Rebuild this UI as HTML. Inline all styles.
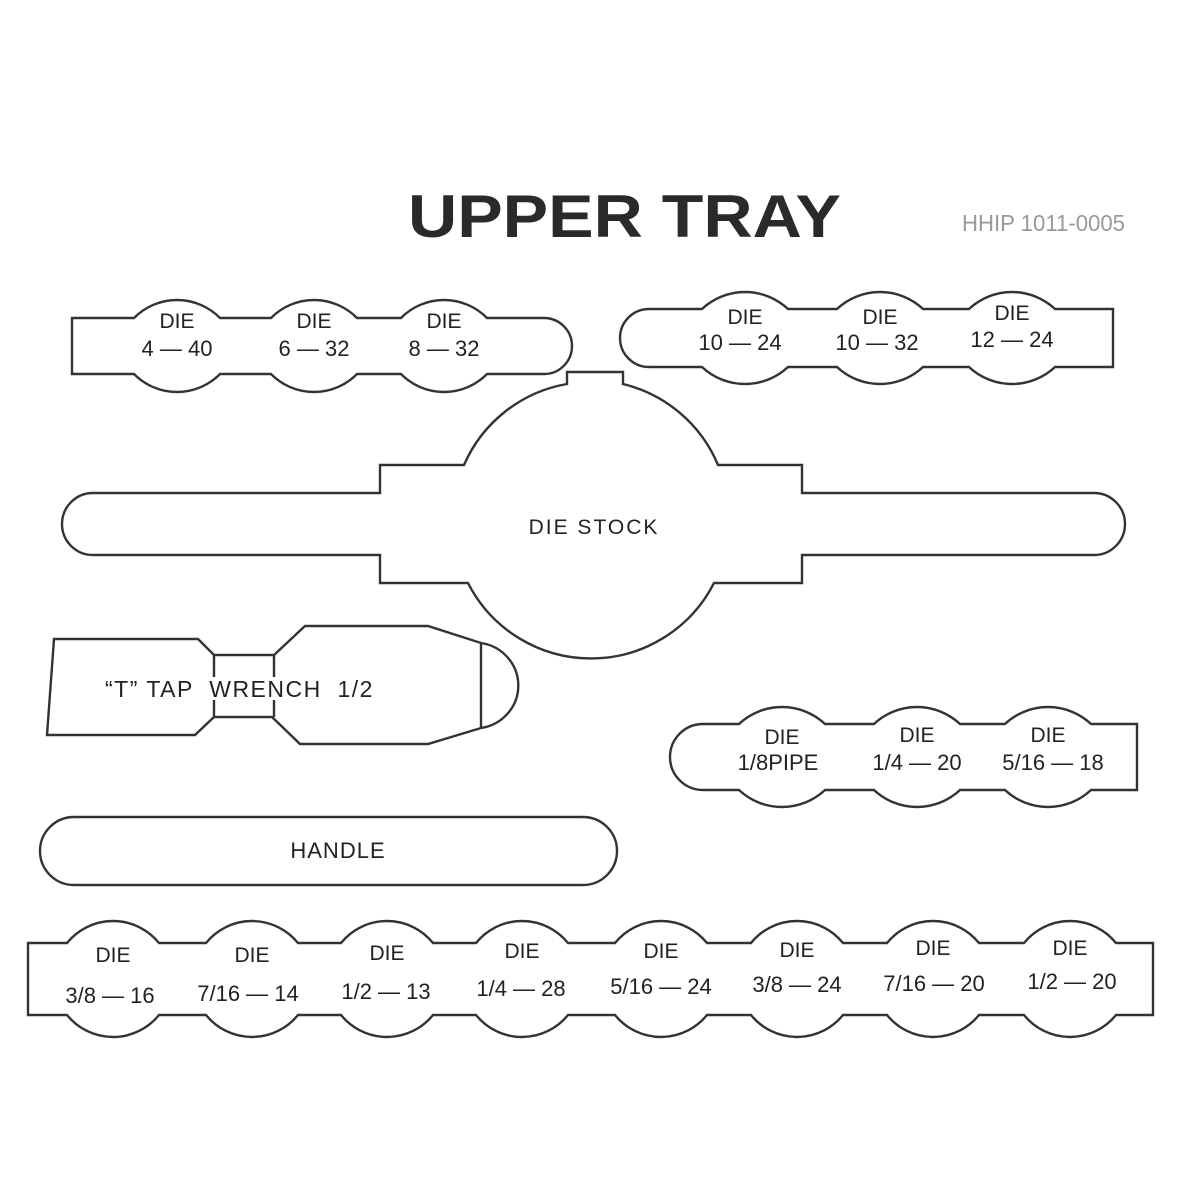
<!DOCTYPE html>
<html><head><meta charset="utf-8"><style>
body{margin:0;background:#fff;}
svg{display:block}
text{font-family:"Liberation Sans",sans-serif;fill:#222;}
.d{font-size:21px;text-anchor:middle;}
.n{font-size:22px;text-anchor:middle;}
</style></head><body>
<svg id="s" width="1200" height="1200" viewBox="0 0 1200 1200" fill="none" stroke="#333" stroke-width="2.4">
<text x="408" y="237" textLength="433" lengthAdjust="spacingAndGlyphs" style="font-size:60px;font-weight:bold;fill:#2a2a2a" stroke="none">UPPER TRAY</text>
<text x="962" y="231" style="font-size:23px;fill:#999" stroke="none" textLength="163" lengthAdjust="spacingAndGlyphs">HHIP 1011-0005</text>

<path d="M93 493 L380 493 L380 465 L464 465 A138 138 0 0 1 567 384 L567 372 L623 372 L623 384 A138 138 0 0 1 718 465 L802 465 L802 493 L1094 493 A31 31 0 0 1 1094 555 L802 555 L802 583 L714 583 A138 138 0 0 1 468 583 L380 583 L380 555 L93 555 A31 31 0 0 1 93 493 Z"/>
<path d="M54 639 L198 639 L214 655 L274 655 L305 626 L428 626 L481 643 A44 43 0 0 1 481 728 L428 744 L300 744 L272 717 L214 717 L195 735 L47 735 Z"/>
<path d="M481 643 L481 728 M214 655 L214 677 M214 700 L214 717 M274 655 L274 677 M274 700 L274 717"/>
<path d="M74 817 L583 817 A34 34 0 0 1 583 885 L74 885 A34 34 0 0 1 74 817 Z"/>
<g id="strips"></g>
<g stroke="none">
<text class="d" x="177" y="328">DIE</text><text class="n" x="177" y="356">4 — 40</text>
<text class="d" x="314" y="328">DIE</text><text class="n" x="314" y="356">6 — 32</text>
<text class="d" x="444" y="328">DIE</text><text class="n" x="444" y="356">8 — 32</text>
<text class="d" x="745" y="324">DIE</text><text class="n" x="740" y="350">10 — 24</text>
<text class="d" x="880" y="324">DIE</text><text class="n" x="877" y="350">10 — 32</text>
<text class="d" x="1012" y="320">DIE</text><text class="n" x="1012" y="347">12 — 24</text>
<text x="594" y="534" style="font-size:21px;text-anchor:middle;letter-spacing:2px">DIE  STOCK</text>
<text x="105" y="697" style="font-size:23px;letter-spacing:1.5px" xml:space="preserve">“T” TAP  WRENCH  1/2</text>
<text class="d" x="782" y="744">DIE</text><text class="n" x="778" y="770">1/8PIPE</text>
<text class="d" x="917" y="742">DIE</text><text class="n" x="917" y="770">1/4 — 20</text>
<text class="d" x="1048" y="742">DIE</text><text class="n" x="1053" y="770">5/16 — 18</text>
<text x="338" y="858" style="font-size:22px;text-anchor:middle;letter-spacing:1px">HANDLE</text>
<text class="d" x="113" y="962">DIE</text><text class="n" x="110" y="1003">3/8 — 16</text>
<text class="d" x="252" y="962">DIE</text><text class="n" x="248" y="1001">7/16 — 14</text>
<text class="d" x="387" y="960">DIE</text><text class="n" x="386" y="999">1/2 — 13</text>
<text class="d" x="522" y="958">DIE</text><text class="n" x="521" y="996">1/4 — 28</text>
<text class="d" x="661" y="958">DIE</text><text class="n" x="661" y="994">5/16 — 24</text>
<text class="d" x="797" y="957">DIE</text><text class="n" x="797" y="992">3/8 — 24</text>
<text class="d" x="933" y="955">DIE</text><text class="n" x="934" y="991">7/16 — 20</text>
<text class="d" x="1070" y="955">DIE</text><text class="n" x="1072" y="989">1/2 — 20</text>
</g>
</svg>
<script>
function strip(x1,x2,yt,yb,centers,hw,bh,left,right){
 var r=(hw*hw+bh*bh)/(2*bh);var d;var h=(yb-yt)/2;
 if(left) d='M'+(x1+h)+' '+yt; else d='M'+x1+' '+yt;
 centers.forEach(function(c){d+=' L'+(c-hw)+' '+yt+' A'+r+' '+r+' 0 0 1 '+(c+hw)+' '+yt;});
 if(right){d+=' L'+(x2-h)+' '+yt+' A'+h+' '+h+' 0 0 1 '+(x2-h)+' '+yb;} else {d+=' L'+x2+' '+yt+' L'+x2+' '+yb;}
 centers.slice().reverse().forEach(function(c){d+=' L'+(c+hw)+' '+yb+' A'+r+' '+r+' 0 0 1 '+(c-hw)+' '+yb;});
 if(left){d+=' L'+(x1+h)+' '+yb+' A'+h+' '+h+' 0 0 1 '+(x1+h)+' '+yt;} else {d+=' L'+x1+' '+yb+' Z';}
 var p=document.createElementNS('http://www.w3.org/2000/svg','path');p.setAttribute('d',d);
 document.getElementById('strips').appendChild(p);
}
strip(72,572,318,374,[177,314,444],43,18,false,true);
strip(620,1113,309,367,[745,880,1012],43,17,true,false);
strip(670,1137,724,790,[782,917,1048],43,17,true,false);
strip(28,1153,943,1015,[113,252,387,522,661,797,933,1070],46,22,false,false);
</script>
</body></html>
